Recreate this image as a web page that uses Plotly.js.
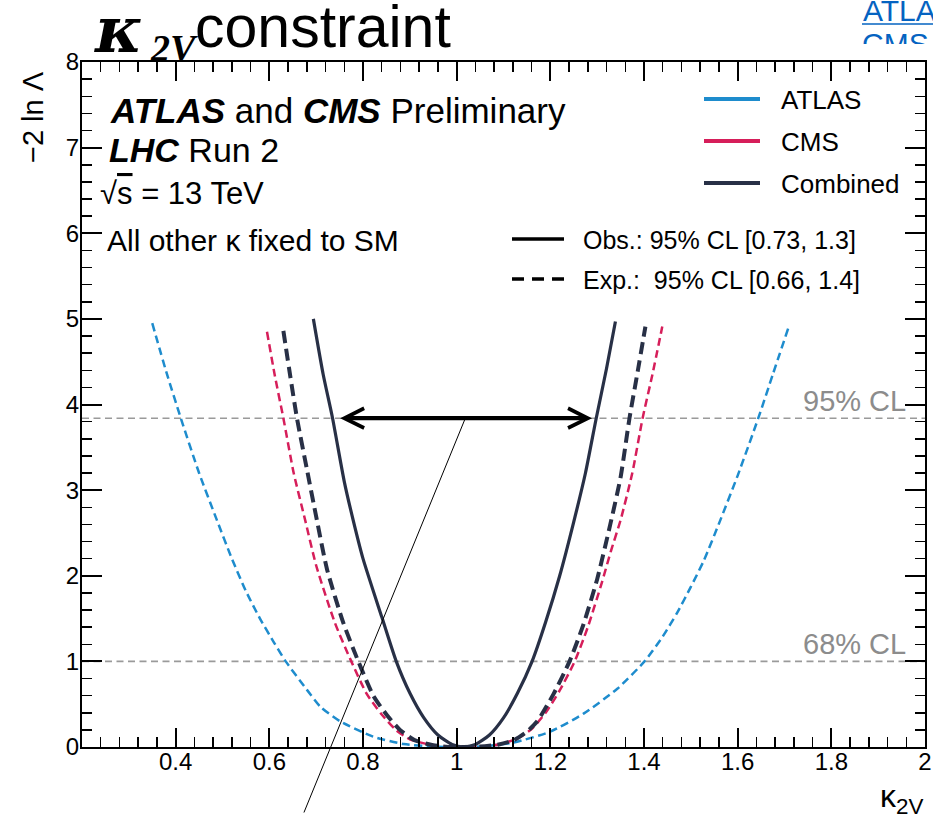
<!DOCTYPE html>
<html><head><meta charset="utf-8">
<script src="https://cdn.plot.ly/plotly-3.0.1.min.js"></script>
<style>html,body{margin:0;padding:0;background:#fff;}#chart{width:933px;height:814px;}</style>
</head><body><div id="chart"></div>
<script>
// ---- data ----
const atlasX = [0.350,0.380,0.411,0.450,0.488,0.520,0.550,0.580,0.610,0.635,0.680,0.709,0.751,0.822,0.887,0.950,1.000,1.050,1.120,1.200,1.271,1.343,1.401,1.440,1.471,1.500,1.528,1.563,1.600,1.644,1.675,1.708];
const atlasY = [4.95,4.38,3.84,3.20,2.65,2.20,1.82,1.50,1.22,1.00,0.67,0.47,0.30,0.12,0.035,0.005,0.0,0.005,0.05,0.18,0.39,0.68,1.00,1.29,1.57,1.87,2.18,2.65,3.17,3.84,4.35,4.89];

const cmsX = [0.595,0.612,0.630,0.652,0.6765,0.700,0.740,0.775,0.808,0.840,0.870,0.900,0.940,0.980,1.010,1.050,1.090,1.130,1.160,1.190,1.220,1.252,1.280,1.310,1.330,1.350,1.375,1.397,1.418,1.439];
const cmsY = [4.85,4.33,3.84,3.20,2.65,2.12,1.45,1.00,0.62,0.38,0.20,0.09,0.03,0.005,0.0,0.005,0.03,0.10,0.21,0.40,0.66,1.00,1.40,1.92,2.30,2.65,3.20,3.84,4.35,4.91];

const expX = [0.630,0.645,0.659,0.680,0.7015,0.723,0.758,0.790,0.822,0.850,0.879,0.910,0.950,0.990,1.015,1.050,1.090,1.122,1.150,1.172,1.207,1.241,1.270,1.300,1.328,1.350,1.369,1.387,1.403];
const expY = [4.86,4.32,3.84,3.25,2.65,2.08,1.45,1.00,0.60,0.38,0.20,0.08,0.02,0.0,0.0,0.005,0.03,0.08,0.18,0.30,0.62,1.00,1.42,1.96,2.60,3.15,3.84,4.40,4.91];

const obsX = [0.694,0.715,0.735,0.760,0.779,0.800,0.840,0.871,0.900,0.930,0.960,0.990,1.015,1.040,1.070,1.100,1.130,1.161,1.190,1.220,1.250,1.275,1.298,1.320,1.339];
const obsY = [5.00,4.35,3.84,3.10,2.65,2.20,1.52,1.00,0.63,0.34,0.14,0.03,0.0,0.03,0.14,0.34,0.63,1.00,1.46,2.00,2.63,3.20,3.84,4.42,4.97];

const xTickVals = [0.4,0.6,0.8,1.0,1.2,1.4,1.6,1.8,2.0];
const xTickText = ['0.4','0.6','0.8','1','1.2','1.4','1.6','1.8','2'];
const clLevels = [1, 3.84];
const clLabels = ['68% CL', '95% CL'];
const arrowSpan = [0.748, 1.289];
const seriesNames = ['ATLAS', 'CMS', 'Combined'];
const styleNames = ['Obs.: 95% CL [0.73, 1.3]', 'Exp.:\u00a0 95% CL [0.66, 1.4]'];

// ---- styling ----
const W = 933, H = 814, ML = 82, MR = 8, MT = 62, MB = 67;
const PW = W - ML - MR, PH = H - MT - MB;
const px = v => (v - ML) / PW;
const py = v => (H - MB - v) / PH;
const SANS = 'Liberation Sans, Arial, Helvetica, sans-serif';
const SERIF = 'DejaVu Serif, Liberation Serif, serif';
const SERIF2 = 'Liberation Serif, DejaVu Serif, serif';
const C_ATLAS = '#1e8ccd', C_CMS = '#d61e5a', C_COMB = '#283046';

const traces = [
  {x: atlasX, y: atlasY, mode: 'lines', line: {color: C_ATLAS, width: 2.5, dash: '8px,4.5px', shape: 'spline', smoothing: 0.6}, showlegend: false, hoverinfo: 'skip'},
  {x: cmsX, y: cmsY, mode: 'lines', line: {color: C_CMS, width: 2.5, dash: '8px,4.5px', shape: 'spline', smoothing: 0.6}, showlegend: false, hoverinfo: 'skip'},
  {x: expX, y: expY, mode: 'lines', line: {color: C_COMB, width: 4, dash: '12px,6px', shape: 'spline', smoothing: 0.6}, showlegend: false, hoverinfo: 'skip'},
  {x: obsX, y: obsY, mode: 'lines', line: {color: C_COMB, width: 3.2, shape: 'spline', smoothing: 0.6}, showlegend: false, hoverinfo: 'skip'}
];

const shapes = [];
const annotations = [];

// CL reference lines and labels
clLevels.forEach((lv, i) => {
  shapes.push({type: 'line', xref: 'paper', yref: 'y', x0: 0, x1: 1, y0: lv, y1: lv,
    line: {color: '#9a9a9a', width: 1.6, dash: '7px,4.5px'}, layer: 'below'});
  annotations.push({xref: 'paper', yref: 'y', x: px(907), y: lv, xanchor: 'right', yanchor: 'bottom',
    text: clLabels[i], showarrow: false, font: {family: SANS, size: 29, color: '#8c8c8c'}, borderpad: 0});
});

// double arrow for observed interval
annotations.push({xref: 'x', yref: 'y', axref: 'x', ayref: 'y', x: arrowSpan[1], y: clLevels[1], ax: arrowSpan[0], ay: clLevels[1],
  text: '', showarrow: true, arrowside: 'end+start', arrowhead: 5, startarrowhead: 5, arrowsize: 0.9, startarrowsize: 0.9,
  arrowwidth: 4.3, arrowcolor: '#000'});
// thin pointer line
annotations.push({xref: 'x', yref: 'y', x: (arrowSpan[0] + arrowSpan[1]) / 2, y: clLevels[1], ax: -162, ay: 400,
  text: '', showarrow: true, arrowhead: 0, arrowwidth: 1, arrowcolor: '#000'});

// legend (series)
const legY = [99, 141, 183];
const legC = [C_ATLAS, C_CMS, C_COMB];
seriesNames.forEach((n, i) => {
  shapes.push({type: 'line', xref: 'paper', yref: 'paper', x0: px(704), x1: px(760), y0: py(legY[i]), y1: py(legY[i]),
    line: {color: legC[i], width: 4}});
  annotations.push({xref: 'paper', yref: 'paper', x: px(779), y: py(legY[i] + 1), xanchor: 'left', yanchor: 'middle',
    text: n, showarrow: false, font: {family: SANS, size: 26, color: '#000'}});
});
// legend (styles)
const styY = [239, 279];
styleNames.forEach((n, i) => {
  shapes.push({type: 'line', xref: 'paper', yref: 'paper', x0: px(512), x1: px(564), y0: py(styY[i]), y1: py(styY[i]),
    line: {color: '#000', width: 3.5, dash: i === 0 ? 'solid' : '12px,8px'}});
  annotations.push({xref: 'paper', yref: 'paper', x: px(581), y: py(styY[i] + 1), xanchor: 'left', yanchor: 'middle',
    text: n, showarrow: false, font: {family: SANS, size: 25, color: '#000'}});
});

// top-left labels
const tl = (t, x, y, s) => annotations.push({xref: 'paper', yref: 'paper', x: px(x), y: py(y), xanchor: 'left', yanchor: 'middle',
  text: t, showarrow: false, font: {family: SANS, size: s, color: '#000'}});
tl('<b><i>ATLAS</i></b> and <b><i>CMS</i></b> Preliminary', 108, 110, 35);
tl('<b><i>LHC</i></b> Run 2', 107, 150, 34);
tl('\u221A<span style="text-decoration:overline">s</span> = 13 TeV', 98, 194, 31);
tl('All other \u03BA fixed to SM', 105, 241, 30);

// slide title
annotations.push({xref: 'paper', yref: 'paper', x: px(92), y: py(30), xanchor: 'left', yanchor: 'middle',
  text: '<b><i>\u03BA</i></b>', showarrow: false, font: {family: SERIF, size: 64, color: '#000'}});
annotations.push({xref: 'paper', yref: 'paper', x: px(148), y: py(48), xanchor: 'left', yanchor: 'middle',
  text: '<b><i>2V</i></b>', showarrow: false, font: {family: SERIF2, size: 38, color: '#000'}});
annotations.push({xref: 'paper', yref: 'paper', x: px(193), y: py(27), xanchor: 'left', yanchor: 'middle',
  text: 'constraint', showarrow: false, font: {family: SANS, size: 59, color: '#000'}});

// cut-off hyperlinks at top right
annotations.push({xref: 'paper', yref: 'paper', x: px(861), y: py(10), xanchor: 'left', yanchor: 'middle',
  text: 'ATLAS', showarrow: false, font: {family: SANS, size: 30, color: '#0563C1'}});
shapes.push({type: 'line', xref: 'paper', yref: 'paper', x0: px(862), x1: px(940), y0: py(24), y1: py(24),
  line: {color: '#0563C1', width: 1.6}});
annotations.push({xref: 'paper', yref: 'paper', x: px(861), y: py(26), xanchor: 'left', yanchor: 'top', valign: 'top',
  height: 17, width: 90, align: 'left', borderpad: 0,
  text: 'CMS', showarrow: false, font: {family: SANS, size: 30, color: '#0563C1'}});

// axis titles
annotations.push({xref: 'paper', yref: 'paper', x: px(925), y: py(798), xanchor: 'right', yanchor: 'middle',
  text: '\u03BA<sub>2V</sub>', showarrow: false, font: {family: SANS, size: 32, color: '#000'}});
annotations.push({xref: 'paper', yref: 'paper', x: px(33), y: py(117), xanchor: 'center', yanchor: 'middle', textangle: -90,
  text: '\u22122 ln \u039B', showarrow: false, font: {family: SANS, size: 29, color: '#000'}});

const axisCommon = {
  ticks: 'inside', tickcolor: '#000', tickwidth: 2, showline: true, linecolor: '#000', linewidth: 2,
  mirror: 'allticks', showgrid: false, zeroline: false, tickfont: {family: SANS, size: 24, color: '#000'}
};

const layout = {
  width: W, height: H, margin: {l: ML, r: MR, t: MT, b: MB, pad: 0},
  paper_bgcolor: '#fff', plot_bgcolor: '#fff', showlegend: false,
  xaxis: Object.assign({}, axisCommon, {range: [0.2, 2.0], tickmode: 'array', tickvals: xTickVals, ticktext: xTickText, ticklen: 19,
    ticklabelstandoff: -8,
    minor: {tickmode: 'linear', tick0: 0.2, dtick: 0.04, ticks: 'inside', ticklen: 10, tickwidth: 1.5, tickcolor: '#000', showgrid: false}}),
  yaxis: Object.assign({}, axisCommon, {range: [0, 8], tickmode: 'linear', tick0: 0, dtick: 1, ticklen: 20,
    ticklabelstandoff: -4,
    minor: {tickmode: 'linear', tick0: 0, dtick: 0.2, ticks: 'inside', ticklen: 10, tickwidth: 1.5, tickcolor: '#000', showgrid: false}}),
  shapes: shapes,
  annotations: annotations
};

Plotly.newPlot('chart', traces, layout, {staticPlot: true, displayModeBar: false});
</script></body></html>
